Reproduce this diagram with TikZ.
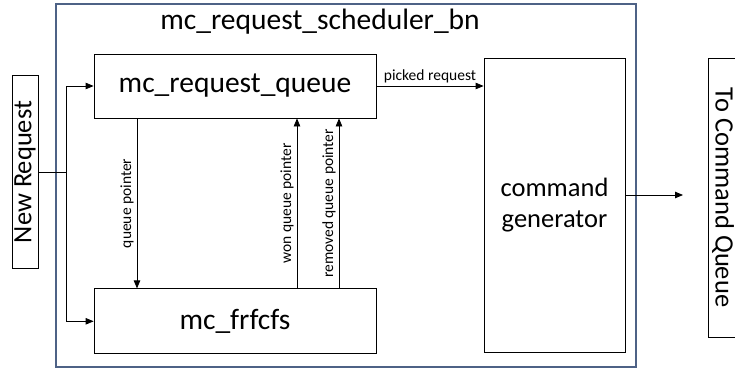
\documentclass[tikz,border=0pt]{standalone}
\usepackage{fontspec}
\setmainfont{Carlito}
\usetikzlibrary{arrows.meta,positioning}
\definecolor{framegray}{RGB}{78,98,134}

\begin{document}
\begin{tikzpicture}[
    x=1pt, y=-1pt,
    box/.style={rectangle, draw, line width=0.8pt, inner sep=0pt, align=center},
    arrow/.style={-{Triangle[length=8pt,width=6.5pt]}, line width=0.8pt},
    lbl/.style={font=\fontsize{15.5}{17}\selectfont, inner sep=3pt},
    big/.style={font=\fontsize{29.5}{32}\selectfont},
    mid/.style={font=\fontsize{26.5}{31}\selectfont}
]
    \useasboundingbox (0,0) rectangle (735,369);
    \clip (0,0) rectangle (735,369);

    \node[draw=framegray, line width=1.3pt, minimum width=580pt, minimum height=363pt] (sched) at (346,185.5) {};
    \node[big] (title) at (320,22) {mc\_request\_scheduler\_bn};

    \node[box, big, minimum width=282pt, minimum height=64pt] (queue) at (235,86) {mc\_request\_queue};
    \node[box, big, minimum width=282pt, minimum height=65pt, below=170pt of queue] (frfcfs) {mc\_frfcfs};
    \node[box, mid, minimum width=141pt, minimum height=294pt] (cmdgen) at (554.5,205) {command\\generator};

    \node[box, mid, rotate=90, minimum width=193pt, minimum height=26pt] (newreq) at (25,172) {New Request};
    \node[box, mid, rotate=-90, minimum width=279pt, minimum height=30pt] (tocq) at (723,197.5) {To Command Queue};

    \coordinate (split) at (66,172);
    \coordinate (qp) at (137,0);
    \coordinate (won) at (297,0);
    \coordinate (rem) at (339,0);
    \coordinate (out) at (683,195);

    \draw[line width=0.8pt] (newreq) -- (split);
    \draw[arrow] (split) |- (queue.west);
    \draw[arrow] (split) |- (frfcfs.west);

    \draw[arrow] (qp |- queue.south) -- (qp |- frfcfs.north)
        node[midway, rotate=90, anchor=south, lbl] {queue pointer};
    \draw[arrow] (won |- frfcfs.north) -- (won |- queue.south)
        node[midway, rotate=90, anchor=south, lbl] {won queue pointer};
    \draw[arrow] (rem |- frfcfs.north) -- (rem |- queue.south)
        node[midway, rotate=90, anchor=south, lbl] {removed queue pointer};

    \draw[arrow] (queue.east) -- (queue.east -| cmdgen.west)
        node[midway, above, lbl] {picked request};
    \draw[arrow] (cmdgen.east |- out) -- (out);
\end{tikzpicture}
\end{document}
